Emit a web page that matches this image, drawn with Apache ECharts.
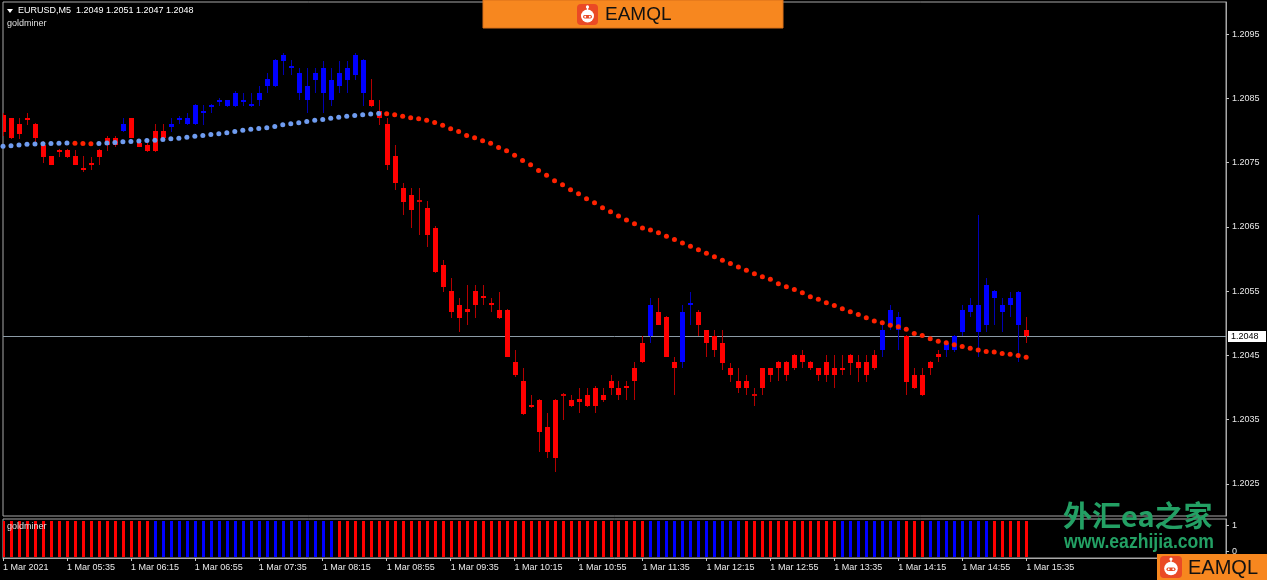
<!DOCTYPE html>
<html><head><meta charset="utf-8">
<script src="https://cdn.jsdelivr.net/npm/echarts@6/dist/echarts.min.js"></script>
<style>html,body{margin:0;padding:0;background:#000;}#c{width:1267px;height:580px;}</style>
</head><body><div id="c"></div>
<script>
// ---------------- DATA ----------------
const symbolName = 'EURUSD,M5';
const indicatorName = 'goldminer';
const tickLabels = ['1 Mar 2021','1 Mar 05:35','1 Mar 06:15','1 Mar 06:55','1 Mar 07:35','1 Mar 08:15','1 Mar 08:55','1 Mar 09:35','1 Mar 10:15','1 Mar 10:55','1 Mar 11:35','1 Mar 12:15','1 Mar 12:55','1 Mar 13:35','1 Mar 14:15','1 Mar 14:55','1 Mar 15:35'];
const yTickValues = [1.2025,1.2035,1.2045,1.2055,1.2065,1.2075,1.2085,1.2095];
const subTickValues = [0,1];

const opens = [
1.20824,1.20819,1.20810,1.20820,1.20810,1.20778,1.20760,1.20769,1.20769,1.20760,
1.20741,1.20750,1.20769,1.20789,1.20789,1.20799,1.20819,1.20780,1.20778,1.20799,
1.20799,1.20806,1.20817,1.20810,1.20810,1.20827,1.20836,1.20845,1.20838,1.20838,
1.20845,1.20838,1.20847,1.20869,1.20869,1.20908,1.20897,1.20859,1.20847,1.20878,
1.20859,1.20847,1.20869,1.20878,1.20887,1.20859,1.20848,1.20830,1.20810,1.20760,
1.20711,1.20699,1.20691,1.20680,1.20649,1.20590,1.20550,1.20529,1.20522,1.20550,
1.20542,1.20531,1.20520,1.20520,1.20439,1.20410,1.20372,1.20380,1.20339,1.20380,
1.20389,1.20380,1.20382,1.20389,1.20400,1.20389,1.20410,1.20400,1.20402,1.20430,
1.20470,1.20480,1.20518,1.20509,1.20439,1.20439,1.20528,1.20518,1.20489,1.20480,
1.20470,1.20430,1.20410,1.20410,1.20389,1.20430,1.20430,1.20439,1.20439,1.20450,
1.20450,1.20439,1.20430,1.20439,1.20430,1.20431,1.20450,1.20439,1.20439,1.20450,
1.20458,1.20498,1.20489,1.20480,1.20419,1.20419,1.20439,1.20452,1.20458,1.20458,
1.20487,1.20518,1.20487,1.20498,1.20539,1.20518,1.20528,1.20548,1.20490];
const highs = [
1.20828,1.20820,1.20820,1.20828,1.20811,1.20783,1.20761,1.20771,1.20771,1.20769,
1.20760,1.20758,1.20771,1.20791,1.20791,1.20819,1.20820,1.20782,1.20782,1.20810,
1.20810,1.20819,1.20822,1.20828,1.20841,1.20839,1.20841,1.20850,1.20848,1.20861,
1.20859,1.20859,1.20869,1.20890,1.20911,1.20920,1.20909,1.20898,1.20898,1.20898,
1.20908,1.20898,1.20908,1.20908,1.20920,1.20911,1.20880,1.20848,1.20819,1.20778,
1.20719,1.20710,1.20710,1.20690,1.20651,1.20599,1.20570,1.20540,1.20559,1.20559,
1.20559,1.20540,1.20548,1.20522,1.20459,1.20430,1.20389,1.20382,1.20360,1.20382,
1.20391,1.20389,1.20400,1.20400,1.20402,1.20400,1.20420,1.20410,1.20410,1.20439,
1.20480,1.20540,1.20540,1.20511,1.20448,1.20529,1.20548,1.20520,1.20490,1.20489,
1.20489,1.20438,1.20430,1.20419,1.20400,1.20431,1.20431,1.20441,1.20441,1.20452,
1.20459,1.20441,1.20431,1.20450,1.20450,1.20450,1.20452,1.20450,1.20450,1.20459,
1.20501,1.20529,1.20518,1.20481,1.20430,1.20430,1.20441,1.20459,1.20470,1.20481,
1.20529,1.20540,1.20669,1.20570,1.20551,1.20540,1.20548,1.20550,1.20510];
const lows = [
1.20791,1.20786,1.20786,1.20808,1.20782,1.20749,1.20746,1.20758,1.20757,1.20746,
1.20736,1.20738,1.20747,1.20768,1.20775,1.20797,1.20788,1.20774,1.20766,1.20766,
1.20786,1.20797,1.20810,1.20808,1.20808,1.20808,1.20828,1.20838,1.20836,1.20836,
1.20838,1.20836,1.20838,1.20859,1.20867,1.20887,1.20887,1.20847,1.20828,1.20859,
1.20828,1.20838,1.20859,1.20859,1.20878,1.20838,1.20836,1.20808,1.20738,1.20708,
1.20668,1.20648,1.20638,1.20618,1.20578,1.20548,1.20508,1.20487,1.20498,1.20508,
1.20528,1.20518,1.20506,1.20447,1.20417,1.20357,1.20368,1.20299,1.20290,1.20268,
1.20349,1.20369,1.20360,1.20369,1.20360,1.20378,1.20389,1.20380,1.20380,1.20380,
1.20438,1.20470,1.20497,1.20447,1.20388,1.20430,1.20498,1.20480,1.20448,1.20448,
1.20428,1.20408,1.20392,1.20388,1.20371,1.20388,1.20408,1.20410,1.20410,1.20428,
1.20430,1.20428,1.20410,1.20408,1.20400,1.20419,1.20419,1.20408,1.20408,1.20428,
1.20448,1.20489,1.20458,1.20388,1.20397,1.20386,1.20419,1.20439,1.20448,1.20456,
1.20480,1.20509,1.20448,1.20487,1.20498,1.20487,1.20509,1.20439,1.20470];
const closes = [
1.20797,1.20788,1.20794,1.20817,1.20788,1.20758,1.20747,1.20766,1.20758,1.20747,
1.20738,1.20747,1.20758,1.20777,1.20777,1.20810,1.20789,1.20775,1.20768,1.20768,
1.20788,1.20810,1.20820,1.20820,1.20839,1.20830,1.20839,1.20848,1.20847,1.20859,
1.20848,1.20841,1.20859,1.20880,1.20909,1.20918,1.20900,1.20889,1.20869,1.20889,
1.20898,1.20878,1.20889,1.20898,1.20918,1.20909,1.20838,1.20819,1.20747,1.20719,
1.20688,1.20677,1.20688,1.20638,1.20579,1.20557,1.20518,1.20508,1.20518,1.20528,
1.20539,1.20528,1.20508,1.20448,1.20419,1.20358,1.20369,1.20330,1.20299,1.20290,
1.20386,1.20371,1.20378,1.20371,1.20371,1.20380,1.20400,1.20389,1.20399,1.20410,
1.20439,1.20529,1.20498,1.20448,1.20430,1.20518,1.20531,1.20498,1.20469,1.20458,
1.20438,1.20419,1.20399,1.20399,1.20386,1.20399,1.20419,1.20430,1.20419,1.20430,
1.20439,1.20430,1.20419,1.20419,1.20419,1.20428,1.20438,1.20430,1.20419,1.20430,
1.20489,1.20520,1.20509,1.20408,1.20399,1.20388,1.20430,1.20448,1.20469,1.20480,
1.20520,1.20529,1.20529,1.20559,1.20550,1.20529,1.20540,1.20498,1.20480];
// goldminer candle colouring: 1 = blue, 0 = red
const candleSignal = [
0,0,0,0,0,0,0,0,0,0, 0,0,0,0,0,1,0,0,0,0, 0,1,1,1,1,1,1,1,1,1, 1,1,1,1,1,1,1,1,1,1,
1,1,1,1,1,1,0,0,0,0, 0,0,0,0,0,0,0,0,0,0, 0,0,0,0,0,0,0,0,0,0, 0,0,0,0,0,0,0,0,0,0,
0,1,0,0,0,1,1,0,0,0, 0,0,0,0,0,0,0,0,0,0, 0,0,0,0,0,0,0,0,0,0, 1,1,1,0,0,0,0,0,1,1,
1,1,1,1,1,1,1,1,0];
// goldminer sub-window histogram: 1 = blue, 0 = red
const histSignal = [
0,0,0,0,0,0,0,0,0,0, 0,0,0,0,0,0,0,0,0,1, 1,1,1,1,1,1,1,1,1,1, 1,1,1,1,1,1,1,1,1,1,
1,1,0,0,0,0,0,0,0,0, 0,0,0,0,0,0,0,0,0,0, 0,0,0,0,0,0,0,0,0,0, 0,0,0,0,0,0,0,0,0,0,
0,1,1,1,1,1,1,1,1,1, 1,1,1,0,0,0,0,0,0,0, 0,0,0,0,0,1,1,1,1,1, 1,1,1,0,0,0,1,1,1,1,
1,1,1,1,0,0,0,0,0];
const maValues = [
1.207753,1.207762,1.207776,1.207786,1.207790,1.207793,1.207797,1.207800,1.207806,1.207801,
1.207797,1.207792,1.207797,1.207804,1.207814,1.207823,1.207829,1.207835,1.207843,1.207849,
1.207860,1.207871,1.207881,1.207893,1.207909,1.207924,1.207937,1.207951,1.207966,1.207985,
1.208002,1.208018,1.208030,1.208044,1.208064,1.208088,1.208106,1.208122,1.208142,1.208158,
1.208173,1.208189,1.208207,1.208220,1.208235,1.208246,1.208257,1.208263,1.208260,1.208246,
1.208220,1.208200,1.208184,1.208158,1.208126,1.208080,1.208028,1.207986,1.207924,1.207888,
1.207842,1.207800,1.207737,1.207683,1.207613,1.207535,1.207465,1.207379,1.207302,1.207219,
1.207157,1.207076,1.207017,1.206939,1.206877,1.206799,1.206737,1.206668,1.206606,1.206550,
1.206484,1.206453,1.206410,1.206355,1.206305,1.206249,1.206197,1.206144,1.206088,1.206035,
1.205982,1.205929,1.205876,1.205823,1.205772,1.205725,1.205683,1.205616,1.205569,1.205527,
1.205476,1.205414,1.205372,1.205320,1.205278,1.205227,1.205180,1.205138,1.205087,1.205034,
1.205009,1.204967,1.204947,1.204905,1.204842,1.204811,1.204760,1.204718,1.204695,1.204667,
1.204640,1.204609,1.204583,1.204562,1.204553,1.204531,1.204516,1.204500,1.204469];

// ---------------- BUILD ----------------
const FONT = 'Liberation Sans';
const N = closes.length;
const SLOTS = 154; // bars + empty right-side shift
const slots = Array.from({length: SLOTS}, (_, i) => String(i));
const last = N - 1;
const labelShown = (idx) => idx % 8 === 0 && idx / 8 < tickLabels.length;

const candleData = opens.map((o, i) => [i, o, closes[i], lows[i], highs[i], candleSignal[i]]);
const histData = histSignal.map((s, i) => [i, 1, s]);
const maData = maValues.map((v, i) => [i, v]);
const priceData = [[last, closes[last]]];

function renderCandle(params, api) {
  const i = api.value(0), o = api.value(1), c = api.value(2), l = api.value(3), h = api.value(4), s = api.value(5);
  const pH = api.coord([i, h]), pL = api.coord([i, l]), pO = api.coord([i, o]), pC = api.coord([i, c]);
  const x = Math.round(pH[0]);
  const yH = Math.round(pH[1]), yL = Math.round(pL[1]);
  const top = Math.round(Math.min(pO[1], pC[1])), bot = Math.round(Math.max(pO[1], pC[1]));
  const body = s ? '#0000ff' : '#ff0000';
  const wick = s ? '#0000b4' : '#b40000';
  const ch = [{type: 'rect', shape: {x: x, y: yH, width: 1, height: Math.max(1, yL - yH)}, style: {fill: wick}}];
  if (bot - top >= 2) ch.push({type: 'rect', shape: {x: x - 2, y: top, width: 5, height: bot - top}, style: {fill: body}});
  else ch.push({type: 'rect', shape: {x: x - 2, y: top - 1, width: 5, height: 2}, style: {fill: '#d80000'}});
  return {type: 'group', children: ch};
}
function renderHist(params, api) {
  const i = api.value(0), s = api.value(2);
  const cs = params.coordSys;
  const p = api.coord([i, 0]);
  const x = Math.round(p[0]);
  return {type: 'rect', shape: {x: x - 1, y: cs.y + 2, width: 3, height: cs.height - 3}, style: {fill: s ? '#0000ff' : '#ff0000'}};
}
function renderPrice(params, api) {
  const cs = params.coordSys;
  const v = api.value(1);
  const y = Math.round(api.coord([api.value(0), v])[1]) + 0.5;
  return {type: 'group', children: [
    {type: 'line', shape: {x1: cs.x, y1: y, x2: cs.x + cs.width, y2: y}, style: {stroke: '#8c9ba6', lineWidth: 1}},
    {type: 'rect', shape: {x: cs.x + cs.width + 2, y: Math.round(y) - 6, width: 38, height: 11}, style: {fill: '#ffffff'}},
    {type: 'text', x: cs.x + cs.width + 5, y: y, style: {text: v.toFixed(4), fill: '#000', font: '9px "Liberation Sans"', verticalAlign: 'middle'}}
  ]};
}

function robot(x, y, size, z) {
  const r = size / 2;
  const e = (o) => Object.assign(o, {z: z});
  return [
    e({type: 'rect', shape: {x: x, y: y, width: size, height: size, r: 4}, style: {fill: '#ea4a25'}}),
    e({type: 'circle', shape: {cx: x + r, cy: y + r + 1.5, r: r * 0.62}, style: {fill: '#ffffff'}}),
    e({type: 'circle', shape: {cx: x + r, cy: y + r * 0.28, r: 1.6}, style: {fill: '#ffffff'}}),
    e({type: 'rect', shape: {x: x + r - 0.6, y: y + r * 0.28, width: 1.2, height: r * 0.5}, style: {fill: '#ffffff'}}),
    e({type: 'rect', shape: {x: x + r - 4.5, y: y + r + 0.5, width: 9, height: 3.5, r: 1.7}, style: {fill: '#ea4a25'}, z2: 1}),
    e({type: 'circle', shape: {cx: x + r - 2.3, cy: y + r + 2.2, r: 1}, style: {fill: '#ffffff'}, z2: 2}),
    e({type: 'circle', shape: {cx: x + r + 2.3, cy: y + r + 2.2, r: 1}, style: {fill: '#ffffff'}, z2: 2})
  ];
}

const fmt = v => v.toFixed(4);
const headerText = symbolName + '  ' + fmt(opens[last]) + ' ' + fmt(highs[last]) + ' ' + fmt(lows[last]) + ' ' + fmt(closes[last]);

const chart = echarts.init(document.getElementById('c'), null, {renderer: 'canvas'});
chart.setOption({
  backgroundColor: '#000000',
  animation: false,
  grid: [
    {left: 3, top: 2, width: 1223, height: 514, show: true, borderColor: '#a8a8a8', borderWidth: 1, backgroundColor: '#000'},
    {left: 3, top: 519, width: 1223, height: 39, show: true, borderColor: '#a8a8a8', borderWidth: 1, backgroundColor: '#000'}
  ],
  xAxis: [
    {type: 'category', gridIndex: 0, data: slots, boundaryGap: false,
     axisLine: {show: false}, axisTick: {show: false}, axisLabel: {show: false}, splitLine: {show: false}},
    {type: 'category', gridIndex: 1, data: slots, boundaryGap: false,
     axisLine: {show: true, onZero: false, lineStyle: {color: '#a8a8a8'}},
     axisTick: {show: true, interval: (idx) => labelShown(idx), length: 3, lineStyle: {color: '#c8c8c8'}},
     axisLabel: {show: true, interval: (idx) => labelShown(idx), formatter: (v) => tickLabels[Number(v) / 8] || '',
       align: 'left', margin: 5, color: '#e8e8e8', fontSize: 9, fontFamily: FONT, hideOverlap: false},
     splitLine: {show: false}}
  ],
  yAxis: [
    {type: 'value', gridIndex: 0, position: 'right', min: 1.2020, max: 1.2100,
     axisLine: {show: true, lineStyle: {color: '#a8a8a8'}},
     axisTick: {show: true, customValues: yTickValues, length: 3, lineStyle: {color: '#c8c8c8'}},
     axisLabel: {show: true, customValues: yTickValues, formatter: v => v.toFixed(4), color: '#e8e8e8', fontSize: 9, fontFamily: FONT, margin: 6},
     splitLine: {show: false}},
    {type: 'value', gridIndex: 1, position: 'right', min: -0.25, max: 1.25,
     axisLine: {show: true, lineStyle: {color: '#a8a8a8'}},
     axisTick: {show: true, customValues: subTickValues, length: 3, lineStyle: {color: '#c8c8c8'}},
     axisLabel: {show: true, customValues: subTickValues, formatter: v => String(Math.round(v)), color: '#e8e8e8', fontSize: 9, fontFamily: FONT, margin: 6},
     splitLine: {show: false}}
  ],
  series: [
    {type: 'custom', name: 'price', xAxisIndex: 0, yAxisIndex: 0, renderItem: renderPrice, data: priceData,
     encode: {x: 0, y: 1}, clip: false, z: 1},
    {type: 'custom', name: 'candles', xAxisIndex: 0, yAxisIndex: 0, renderItem: renderCandle, data: candleData,
     encode: {x: 0, y: [1, 2, 3, 4]}, clip: true, z: 2},
    {type: 'scatter', name: 'ma', xAxisIndex: 0, yAxisIndex: 0, data: maData, symbol: 'circle', symbolSize: 5, z: 3,
     clip: false,
     itemStyle: {opacity: 1, color: (p) => {
       const i = p.dataIndex;
       const up = i === 0 ? maValues[1] > maValues[0] : maValues[i] > maValues[i - 1];
       return up ? '#6f9cf0' : '#ff2200';
     }}},
    {type: 'custom', name: 'hist', xAxisIndex: 1, yAxisIndex: 1, renderItem: renderHist, data: histData,
     encode: {x: 0, y: 1}, clip: true}
  ],
  graphic: [
    {type: 'polygon', shape: {points: [[7, 9], [13, 9], [10, 13]]}, style: {fill: '#ffffff'}},
    {type: 'text', x: 18, y: 11, style: {text: headerText, fill: '#ffffff', font: '9px "Liberation Sans"', textVerticalAlign: 'middle'}},
    {type: 'text', x: 7, y: 24, style: {text: indicatorName, fill: '#e0e0e0', font: '9px "Liberation Sans"', textVerticalAlign: 'middle'}},
    {type: 'text', x: 7, y: 527, style: {text: indicatorName, fill: '#e0e0e0', font: '9px "Liberation Sans"', textVerticalAlign: 'middle'}, z: 10},
    // top banner
    {type: 'rect', shape: {x: 483, y: 0, width: 300, height: 28}, style: {fill: '#f7871f', stroke: '#d9701a', lineWidth: 1}, z: 20},
    ...robot(577, 4, 21, 21),
    {type: 'text', x: 605, y: 15, z: 21, style: {text: 'EAMQL', fill: '#111111', font: '19px "Liberation Sans"', textVerticalAlign: 'middle'}},
    // bottom-right watermark
    {type: 'text', x: 1063, y: 516, z: 20, style: {text: '外汇ea之家', fill: '#23a064', font: 'bold 29px "Noto Sans CJK SC"', textVerticalAlign: 'middle'}},
    {type: 'text', x: 1064, y: 542, z: 20, scaleX: 0.88, style: {text: 'www.eazhijia.com', fill: '#23a064', font: 'bold 20px "Liberation Sans"', textVerticalAlign: 'middle'}},
    {type: 'rect', shape: {x: 1157, y: 554, width: 110, height: 26}, style: {fill: '#f7871f'}, z: 20},
    ...robot(1160, 556, 22, 21),
    {type: 'text', x: 1188, y: 568, z: 21, style: {text: 'EAMQL', fill: '#111111', font: '20px "Liberation Sans"', textVerticalAlign: 'middle'}}
  ]
});
</script>
</body></html>
